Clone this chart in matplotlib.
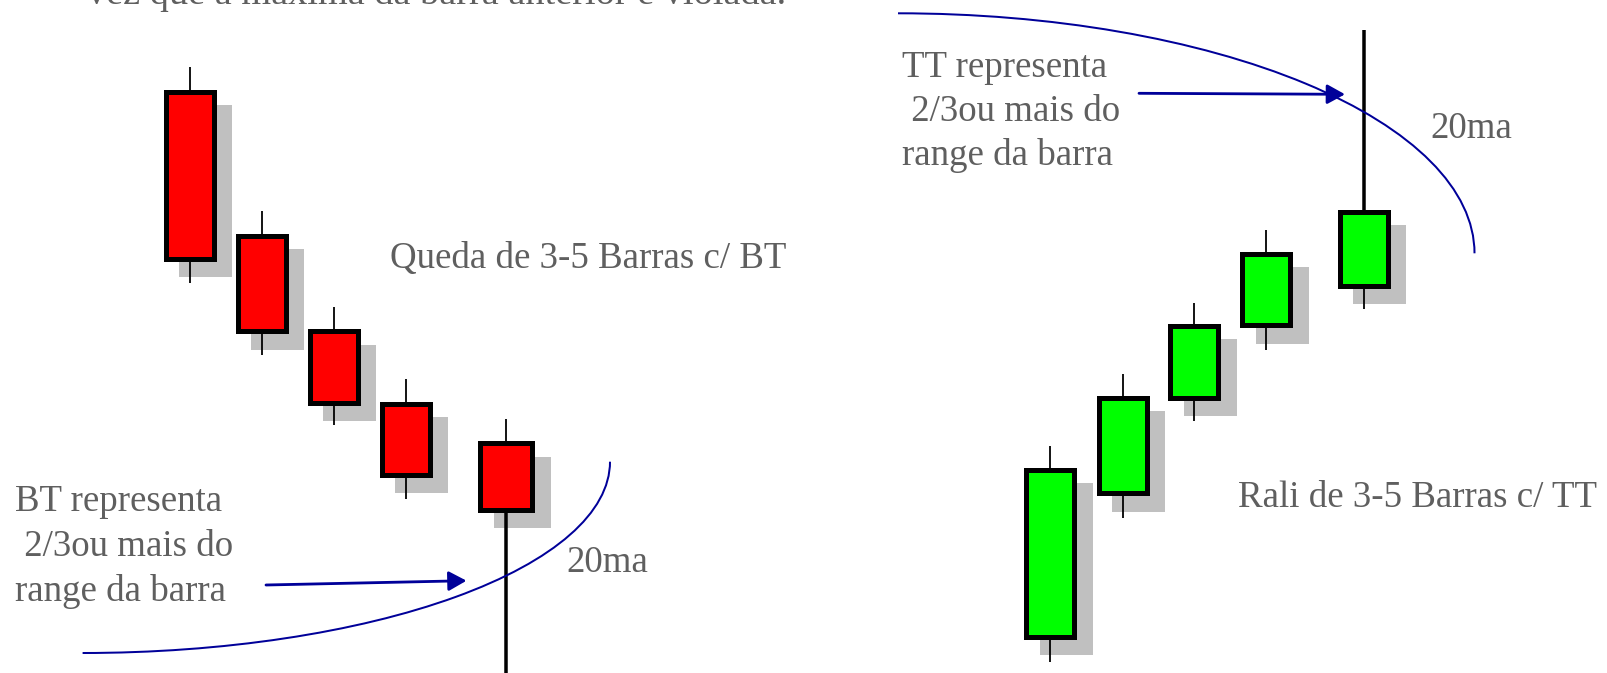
import matplotlib
matplotlib.use("Agg")
import matplotlib.pyplot as plt
from matplotlib.patches import Rectangle, Arc

# ---- data (pixel-like coordinates, y grows downward) ----
red_x     = [189.7, 261.5, 333.5, 405.7, 506.0]
red_open  = [91.5, 235.5, 331.2, 403.5, 443.2]   # top of body (bearish: open above close)
red_close = [258.5, 331.2, 402.8, 474.5, 509.5]
red_high  = [67.0, 211.0, 307.3, 379.3, 419.3]
red_low   = [283.0, 355.0, 425.0, 499.0, 673.0]

green_x     = [1050.4, 1122.6, 1194.4, 1266.4, 1363.8]
green_open  = [636.8, 493.2, 397.5, 325.2, 285.5]  # bottom of body
green_close = [469.8, 397.8, 325.8, 253.8, 211.8]
green_high  = [445.7, 373.7, 303.4, 229.7, 30.0]
green_low   = [661.7, 517.7, 421.3, 349.7, 309.3]

texts = [
    ("vez que a máxima da barra anterior é violada.", 87, 4, 27.5),
    ("Queda de 3-5 Barras c/ BT", 390, 268, 26.6),
    ("BT representa", 15, 511, 26.6),
    (" 2/3ou mais do", 15, 556, 26.6),
    ("range da barra", 15, 601, 26.6),
    ("20ma", 566, 572, 26.6),
    ("TT representa", 902, 77, 26.6),
    (" 2/3ou mais do", 902, 121, 26.6),
    ("range da barra", 902, 165, 26.6),
    ("20ma", 1430, 138, 26.6),
    ("Rali de 3-5 Barras c/ TT", 1238, 507, 26.6),
]

W, H = 1607, 673
fig = plt.figure(figsize=(W / 100, H / 100), dpi=100)
ax = fig.add_axes([0, 0, 1, 1])
ax.set_xlim(0, W)
ax.set_ylim(H, 0)
ax.axis("off")

BODY_W = 48
EDGE_PX = 5
SH = 16
pt = 72 / 100


def candle(x, o, c, h, l, fill, tail, width=BODY_W):
    top, bot = min(o, c), max(o, c)
    # shadow
    ax.add_patch(Rectangle((x - width / 2 - EDGE_PX / 2 + SH, top - EDGE_PX / 2 + SH),
                           width + EDGE_PX, bot - top + EDGE_PX,
                           facecolor="#c0c0c0", edgecolor="none", zorder=1))
    # wicks
    up_lw = 3.5 if tail == "up" else 1.8
    dn_lw = 3.5 if tail == "down" else 1.8
    ax.plot([x, x], [h, top], color="black", lw=up_lw * pt, zorder=2, solid_capstyle="butt")
    ax.plot([x, x], [bot, l], color="black", lw=dn_lw * pt, zorder=2, solid_capstyle="butt")
    # body
    ax.add_patch(Rectangle((x - width / 2, top), width, bot - top,
                           facecolor=fill, edgecolor="black", lw=EDGE_PX * pt,
                           joinstyle="miter", zorder=3))


for i in range(len(red_x)):
    candle(red_x[i], red_open[i], red_close[i], red_high[i], red_low[i], "#ff0000",
           "down" if i == len(red_x) - 1 else None,
           width=52 if i == len(red_x) - 1 else BODY_W)

for i in range(len(green_x)):
    candle(green_x[i], green_open[i], green_close[i], green_high[i], green_low[i], "#00ff00",
           "up" if i == len(green_x) - 1 else None)

BLUE = "#000099"
# 20ma curves (quarter ellipses)
ax.add_patch(Arc((82.6, 461.7), 2 * 527.4, 2 * 191.3, theta1=0, theta2=90,
                 color=BLUE, lw=2 * pt, zorder=4))
ax.add_patch(Arc((898.0, 253.3), 2 * 576.5, 2 * 240.0, theta1=270, theta2=360,
                 color=BLUE, lw=2 * pt, zorder=4))

# arrows
for (x0, y0), (x1, y1) in [((266, 585), (466.5, 580.7)), ((1139, 93.3), (1345, 94.3))]:
    ax.annotate("", xy=(x1, y1), xytext=(x0, y0),
                arrowprops=dict(arrowstyle="-|>,head_length=0.4,head_width=0.22",
                                color=BLUE, lw=2.8 * pt, mutation_scale=27,
                                shrinkA=0, shrinkB=0), zorder=5)

for s, x, y, fs in texts:
    ax.text(x, y, s, fontsize=fs, family="Liberation Serif", color="#5f5f5f",
            ha="left", va="baseline", zorder=6)

fig.savefig("out.png", dpi=100)
